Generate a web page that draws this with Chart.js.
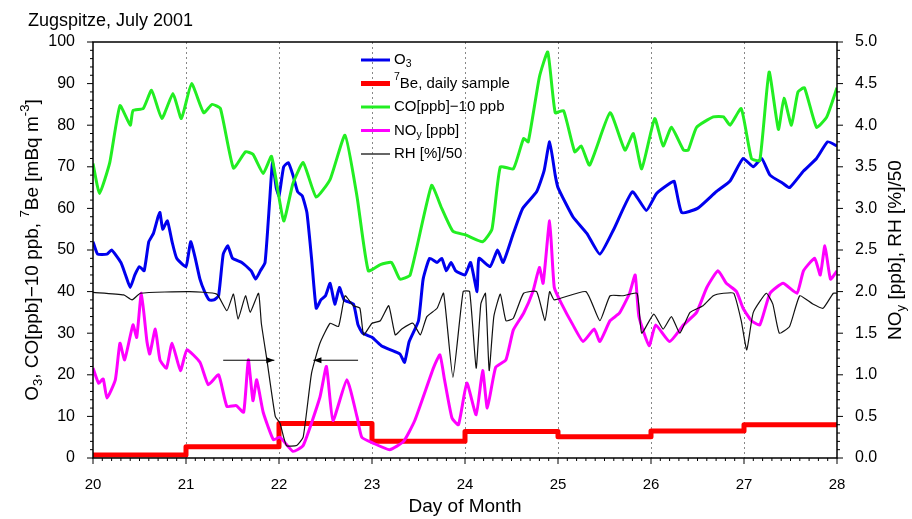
<!DOCTYPE html>
<html>
<head>
<meta charset="utf-8">
<script src="https://cdn.jsdelivr.net/npm/chart.js@4/dist/chart.umd.min.js"></script>
<style>
  html, body { margin: 0; padding: 0; background: #fff; }
  #wrap { width: 912px; height: 519px; }
</style>
</head>
<body>
<div id="wrap"><canvas id="chart"></canvas></div>
<script>
// O3 [ppb]
const o3Days = [20.0,20.05,20.15,20.2,20.3,20.35,20.4,20.45,20.5,20.55,20.6,20.65,20.7,20.72,20.75,20.8,20.85,20.9,21.0,21.05,21.1,21.15,21.2,21.25,21.3,21.35,21.4,21.45,21.5,21.6,21.7,21.75,21.8,21.85,21.9,21.93,21.97,22.0,22.05,22.1,22.15,22.2,22.25,22.3,22.35,22.4,22.45,22.5,22.55,22.6,22.65,22.7,22.8,22.85,22.9,23.0,23.1,23.2,23.3,23.35,23.4,23.5,23.55,23.62,23.7,23.75,23.8,23.85,23.9,24.0,24.06,24.13,24.15,24.27,24.35,24.41,24.52,24.62,24.77,24.85,24.91,24.97,25.0,25.16,25.31,25.45,25.6,25.8,25.95,26.06,26.2,26.25,26.33,26.5,26.7,26.85,26.99,27.1,27.19,27.28,27.42,27.49,27.64,27.78,27.9,28.0];
const o3Vals = [52,49,49,50,47,44,41,44,46,45,52,54,58,59,55,57,52,48,46,52,48,43,40,38,38,39,49,51,48,47,45,43,45,47,62,71,65,63,70,71,68,64,63,59,48,36,38,39,42,37,41,38,37,32,30,29,27,26,25,23,28,33,43,48,47,48,45,47,45,44,47,40,48,46,50,47,54,60,64,69,76,68,65,58,54,49,55,64,59.5,63.6,66,66.5,59,60,64,66.6,72,70,72,68,66,65,69,72,76,75];

// CO [ppb] - 10 ppb
const coDays = [20.0,20.07,20.18,20.29,20.4,20.43,20.54,20.63,20.74,20.86,20.95,21.06,21.19,21.28,21.37,21.51,21.64,21.72,21.83,21.92,22.05,22.15,22.26,22.4,22.55,22.71,22.84,22.96,23.09,23.21,23.3,23.41,23.64,23.75,23.87,24.01,24.19,24.29,24.38,24.52,24.63,24.68,24.8,24.89,24.97,25.06,25.18,25.25,25.34,25.56,25.72,25.81,25.9,26.04,26.13,26.22,26.35,26.4,26.49,26.67,26.78,26.85,26.97,27.08,27.17,27.27,27.37,27.43,27.51,27.58,27.65,27.78,27.89,28.0];
const coVals = [70.8,63.6,71,84.7,80,83.5,84,88.4,81.6,87.6,81.6,90,83,85,84,69.7,73.6,73,68.4,72.5,57,66,71,62.7,67,77.6,62.7,45,46.5,47,43,44,65.5,60,54.5,53.6,52,55,70,69.5,76.8,76,91.6,97.6,83,83.5,73.6,75,70.4,83,74,78,69.5,81.6,75,79.5,74,74,79.5,82,82,80,84,72,71.5,92.8,79,86.5,80,88,89,79.5,82,89];

// NOy [ppb] (right axis)
const noyDays = [20.0,20.06,20.11,20.15,20.24,20.29,20.34,20.43,20.47,20.52,20.58,20.61,20.67,20.72,20.79,20.85,20.94,21.01,21.15,21.24,21.35,21.44,21.54,21.62,21.67,21.72,21.76,21.83,21.94,22.01,22.15,22.26,22.44,22.51,22.58,22.73,22.84,22.89,23.01,23.19,23.34,23.46,23.66,23.73,23.78,23.86,23.93,24.02,24.12,24.19,24.24,24.33,24.44,24.52,24.63,24.73,24.8,24.84,24.91,24.96,25.04,25.16,25.27,25.39,25.45,25.56,25.66,25.77,25.83,25.87,25.98,26.05,26.2,26.35,26.49,26.6,26.72,26.81,26.92,26.99,27.08,27.17,27.28,27.42,27.57,27.64,27.76,27.82,27.87,27.93,28.0];
const noyVals = [1.08,0.9,0.95,0.72,0.94,1.38,1.18,1.6,1.45,1.98,1.4,1.25,1.55,1.18,1.08,1.38,1.05,1.3,1.15,0.88,1.0,0.62,0.63,0.55,1.18,0.69,0.94,0.55,0.22,0.25,0.08,0.15,0.73,1.1,0.45,0.94,0.49,0.25,0.18,0.1,0.2,0.45,1.08,1.24,0.94,0.48,0.4,0.9,0.52,1.05,0.6,1.09,1.18,1.54,1.74,2.0,2.29,2.1,2.85,2.05,1.85,1.6,1.4,1.55,1.4,1.65,1.74,1.98,2.2,1.7,1.35,1.6,1.4,1.6,1.75,2.05,2.25,2.1,2.0,1.8,1.65,1.6,1.98,2.1,1.98,2.25,2.4,2.2,2.55,2.15,2.25];

// RH [%] / 50 (right axis)
const rhDays = [20.0,20.33,20.42,20.51,21.04,21.33,21.44,21.51,21.56,21.64,21.69,21.78,21.81,21.87,21.96,22.01,22.08,22.19,22.26,22.35,22.44,22.55,22.64,22.71,22.8,22.87,22.91,23.0,23.09,23.18,23.25,23.32,23.44,23.52,23.59,23.7,23.77,23.87,23.98,24.05,24.12,24.17,24.22,24.26,24.31,24.38,24.44,24.52,24.63,24.77,24.86,24.91,24.96,25.3,25.45,25.56,25.7,25.85,25.9,26.03,26.13,26.22,26.31,26.42,26.56,26.67,26.78,26.89,26.97,27.03,27.1,27.24,27.31,27.38,27.49,27.6,27.74,27.85,27.96,28.0];
const rhVals = [1.99,1.96,1.9,1.98,2.0,1.97,1.77,1.97,1.67,1.95,1.75,1.98,1.62,1.18,0.5,0.42,0.15,0.15,0.25,1.02,1.38,1.62,1.58,1.95,1.83,1.8,1.48,1.62,1.65,1.83,1.48,1.55,1.62,1.48,1.7,1.8,1.98,0.97,2.0,2.0,1.08,1.85,1.98,1.05,1.7,1.97,1.65,1.68,1.98,2.0,1.65,2.0,1.9,2.0,1.65,1.95,1.95,1.98,1.5,1.73,1.55,1.7,1.5,1.75,1.83,1.95,1.98,1.98,1.65,1.3,1.75,1.98,1.85,1.5,1.58,1.95,1.85,1.8,1.98,1.98];

// 7Be daily sample [mBq m-3]
const beDays = [20,21,22,23,24,25,26,27,28];
const beVals = [0.7,2.7,8.3,4.0,6.4,5.1,6.5,8.0,8.0];

// RH half-width arrows: tail day -> head day, at a left-axis level
const arrowFrom = [21.4, 22.85];
const arrowTo = [21.95, 22.37];
const arrowLevel = 23.5;

const xTicks = [20,21,22,23,24,25,26,27,28];

const toPts = (d, v) => d.map((x, i) => ({ x: x, y: v[i] }));

const FONT = '"Liberation Sans", Arial, sans-serif';

const legendItems = [
    { color: '#0000ee', width: 3, label: [['O', 0], ['3', 1]] },
    { color: '#ff0000', width: 5, label: [['7', -1], ['Be, daily sample', 0]] },
    { color: '#22ee22', width: 3, label: [['CO[ppb]\u221210 ppb', 0]] },
    { color: '#ff00ff', width: 3, label: [['NO', 0], ['y', 1], [' [ppb]', 0]] },
    { color: '#333333', width: 1.5, label: [['RH [%]/50', 0]] }
];

// draw text pieces: 0 normal, 1 subscript, -1 superscript
function richText(ctx, parts, x, y, size) {
    let cx = x;
    parts.forEach(p => {
        const s = p[1] === 0 ? size : size * 0.7;
        const dy = p[1] === 1 ? size * 0.3 : (p[1] === -1 ? -size * 0.4 : 0);
        ctx.font = s + 'px ' + FONT;
        ctx.fillText(p[0], cx, y + dy);
        cx += ctx.measureText(p[0]).width;
    });
    return cx - x;
}
function richWidth(ctx, parts, size) {
    let w = 0;
    parts.forEach(p => {
        ctx.font = (p[1] === 0 ? size : size * 0.7) + 'px ' + FONT;
        w += ctx.measureText(p[0]).width;
    });
    return w;
}

const decorPlugin = {
    id: 'decor',
    beforeDatasetsDraw(chart) {
        const { ctx, chartArea: a, scales } = chart;
        ctx.save();
        // dotted day grid
        ctx.strokeStyle = '#888';
        ctx.lineWidth = 1;
        ctx.setLineDash([2, 3]);
        xTicks.slice(1, -1).forEach(t => {
            const px = Math.round(scales.x.getPixelForValue(t)) + 0.5;
            ctx.beginPath(); ctx.moveTo(px, a.top); ctx.lineTo(px, a.bottom); ctx.stroke();
        });
        ctx.restore();
    },
    afterDatasetsDraw(chart) {
        const { ctx, chartArea: a, scales } = chart;
        ctx.save();
        // frame
        ctx.strokeStyle = '#000';
        ctx.lineWidth = 1.5;
        ctx.strokeRect(a.left, a.top, a.right - a.left, a.bottom - a.top);
        // ticks
        ctx.lineWidth = 1;
        for (let v = 0; v <= 100; v += 2) {
            const py = scales.y.getPixelForValue(v);
            const len = v % 10 === 0 ? 6 : 3;
            ctx.beginPath(); ctx.moveTo(a.left - len, py); ctx.lineTo(a.left, py); ctx.stroke();
        }
        for (let v = 0; v <= 50; v += 1) {
            const py = scales.y2.getPixelForValue(v / 10);
            const len = v % 5 === 0 ? 6 : 3;
            ctx.beginPath(); ctx.moveTo(a.right, py); ctx.lineTo(a.right + len, py); ctx.stroke();
        }
        for (let v = 200; v <= 280; v += 1) {
            const px = scales.x.getPixelForValue(v / 10);
            const len = v % 10 === 0 ? 6 : 3;
            ctx.beginPath(); ctx.moveTo(px, a.bottom); ctx.lineTo(px, a.bottom + len); ctx.stroke();
        }
        // arrows
        ctx.lineWidth = 1;
        ctx.fillStyle = '#000';
        const ay = scales.y.getPixelForValue(arrowLevel);
        for (let i = 0; i < arrowFrom.length; i++) {
            const x0 = scales.x.getPixelForValue(arrowFrom[i]);
            const x1 = scales.x.getPixelForValue(arrowTo[i]);
            const dir = x1 > x0 ? -1 : 1;
            ctx.beginPath(); ctx.moveTo(x0, ay); ctx.lineTo(x1, ay); ctx.stroke();
            ctx.beginPath();
            ctx.moveTo(x1, ay); ctx.lineTo(x1 + dir * 8, ay - 3); ctx.lineTo(x1 + dir * 8, ay + 3); ctx.closePath();
            ctx.fill();
        }
        // legend
        ctx.textBaseline = 'middle';
        ctx.fillStyle = '#000';
        legendItems.forEach((it, i) => {
            const y = 60 + i * 23.5;
            ctx.strokeStyle = it.color;
            ctx.lineWidth = it.width;
            ctx.beginPath(); ctx.moveTo(361, y); ctx.lineTo(390, y); ctx.stroke();
            richText(ctx, it.label, 394, y, 15);
        });
        // title
        ctx.textBaseline = 'alphabetic';
        ctx.font = '18px ' + FONT;
        ctx.fillText('Zugspitze, July 2001', 28, 26);
        // x title
        const xt = 'Day of Month';
        ctx.font = '19px ' + FONT;
        const xw = ctx.measureText(xt).width;
        ctx.fillText(xt, (a.left + a.right) / 2 - xw / 2, 512);
        // left title
        const lParts = [['O', 0], ['3', 1], [', CO[ppb]\u221210 ppb, ', 0], ['7', -1], ['Be [mBq m', 0], ['-3', -1], [']', 0]];
        ctx.save();
        ctx.translate(33, (a.top + a.bottom) / 2);
        ctx.rotate(-Math.PI / 2);
        ctx.textBaseline = 'middle';
        richText(ctx, lParts, -richWidth(ctx, lParts, 19) / 2, 0, 19);
        ctx.restore();
        // right title
        const rParts = [['NO', 0], ['y', 1], [' [ppb], RH [%]/50', 0]];
        ctx.save();
        ctx.translate(896, (a.top + a.bottom) / 2);
        ctx.rotate(-Math.PI / 2);
        ctx.textBaseline = 'middle';
        richText(ctx, rParts, -richWidth(ctx, rParts, 19) / 2, 0, 19);
        ctx.restore();
        ctx.restore();
    }
};

Chart.defaults.font.family = FONT;
Chart.defaults.color = '#000';

new Chart(document.getElementById('chart'), {
    type: 'line',
    data: {
        datasets: [
            { label: 'RH', data: toPts(rhDays, rhVals), yAxisID: 'y2', borderColor: '#111', borderWidth: 1.2 },
            { label: 'NOy', data: toPts(noyDays, noyVals), yAxisID: 'y2', borderColor: '#ff00ff', borderWidth: 3 },
            { label: 'CO', data: toPts(coDays, coVals), yAxisID: 'y', borderColor: '#22ee22', borderWidth: 3 },
            { label: 'O3', data: toPts(o3Days, o3Vals), yAxisID: 'y', borderColor: '#0000ee', borderWidth: 3 },
            { label: '7Be', data: toPts(beDays, beVals), yAxisID: 'y', borderColor: '#ff0000', borderWidth: 5, stepped: 'before' }
        ]
    },
    options: {
        responsive: true,
        maintainAspectRatio: false,
        animation: false,
        layout: { padding: { top: 42, right: 0, left: 0, bottom: 0 } },
        elements: { point: { radius: 0 }, line: { tension: 0.15, borderJoinStyle: 'round' } },
        plugins: { legend: { display: false }, tooltip: { enabled: false } },
        scales: {
            x: {
                type: 'linear', min: 20, max: 28,
                afterBuildTicks: s => { s.ticks = xTicks.map(v => ({ value: v })); },
                grid: { display: false },
                border: { display: false },
                ticks: { font: { size: 15 }, padding: 10 },
                afterFit: s => { s.height = 61; }
            },
            y: {
                position: 'left', min: 0, max: 100,
                grid: { display: false },
                border: { display: false },
                ticks: { stepSize: 10, font: { size: 16 }, padding: 10 },
                afterFit: s => { s.width = 93; }
            },
            y2: {
                position: 'right', min: 0, max: 5,
                grid: { display: false },
                border: { display: false },
                ticks: { stepSize: 0.5, font: { size: 16 }, padding: 10, callback: v => v.toFixed(1) },
                afterFit: s => { s.width = 75; }
            }
        }
    },
    plugins: [decorPlugin]
});
</script>
</body>
</html>
